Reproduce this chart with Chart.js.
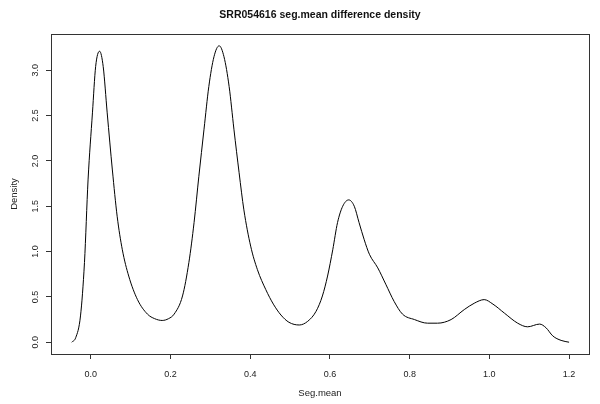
<!DOCTYPE html>
<html>
<head>
<meta charset="utf-8">
<script src="https://cdn.jsdelivr.net/npm/chart.js@4/dist/chart.umd.min.js"></script>
<style>
html,body{margin:0;padding:0;background:#fff;}
#c{display:block;}
</style>
</head>
<body>
<canvas id="c" width="600" height="404"></canvas>
<script>
const chartTitle = "SRR054616 seg.mean difference density";
const xLabel = "Seg.mean";
const yLabel = "Density";
const xTicks = [0.0, 0.2, 0.4, 0.6, 0.8, 1.0, 1.2];
const yTicks = [0.0, 0.5, 1.0, 1.5, 2.0, 2.5, 3.0];
const segMean = [
 -0.048,-0.038,-0.026,-0.016,-0.007,0.004,0.012,0.022,0.031,0.041,0.054,0.066,0.079,0.095,0.117,0.142,0.160,0.179,0.195,0.209,
 0.230,0.246,0.259,0.271,0.284,0.296,0.309,0.322,0.334,0.347,0.359,0.372,0.384,0.401,0.418,0.439,0.458,0.477,0.497,0.523,
 0.544,0.565,0.581,0.594,0.607,0.619,0.632,0.647,0.661,0.673,0.686,0.699,0.720,0.740,0.761,0.782,0.812,0.845,0.870,0.904,
 0.937,0.962,0.987,1.009,1.038,1.071,1.096,1.126,1.142,1.159,1.180,1.200
];
const density = [
 0.00,0.05,0.29,0.88,1.79,2.53,3.04,3.21,3.04,2.53,1.90,1.39,1.02,0.73,0.47,0.31,0.26,0.24,0.26,0.31,
 0.51,0.88,1.32,1.83,2.35,2.82,3.15,3.27,3.15,2.82,2.35,1.87,1.46,1.06,0.80,0.58,0.42,0.30,0.22,0.19,
 0.23,0.34,0.51,0.73,1.02,1.32,1.50,1.57,1.50,1.32,1.13,0.97,0.82,0.64,0.45,0.31,0.25,0.21,0.21,0.25,
 0.36,0.43,0.47,0.42,0.32,0.21,0.17,0.20,0.16,0.07,0.02,0.00
];

const FONT = "'Liberation Sans', Arial, Helvetica, sans-serif";

const boxPlugin = {
  id: 'rbox',
  afterDraw(chart) {
    const {ctx, chartArea: a} = chart;
    ctx.save();
    ctx.strokeStyle = '#333';
    ctx.lineWidth = 1;
    ctx.strokeRect(Math.round(a.left) + 0.5, Math.round(a.top) + 0.5,
                   Math.round(a.right - a.left), Math.round(a.bottom - a.top));
    ctx.fillStyle = '#111';
    ctx.font = "bold 10.5px " + FONT;
    ctx.textAlign = 'center';
    ctx.textBaseline = 'middle';
    ctx.fillText(chartTitle, (a.left + a.right) / 2, 15);
    ctx.restore();
  }
};

new Chart(document.getElementById('c'), {
  type: 'line',
  data: {
    datasets: [{
      data: segMean.map((x, i) => ({x: x, y: density[i]})),
      borderColor: '#000',
      borderWidth: 1,
      pointRadius: 0,
      fill: false,
      cubicInterpolationMode: 'monotone'
    }]
  },
  options: {
    responsive: false,
    animation: false,
    devicePixelRatio: 1,
    layout: {padding: {top: 34, right: 11, bottom: 0, left: 0}},
    plugins: {legend: {display: false}, tooltip: {enabled: false}, title: {display: false}},
    scales: {
      x: {
        type: 'linear',
        min: -0.1, max: 1.25,
        afterBuildTicks: s => { s.ticks = xTicks.map(v => ({value: v})); },
        afterFit: s => { s.height = 50; },
        ticks: {
          color: '#222',
          font: {family: FONT, size: 9},
          padding: 10,
          maxRotation: 0, minRotation: 0,
          callback: v => Number(v).toFixed(1)
        },
        grid: {display: true, drawOnChartArea: false, drawTicks: true, tickLength: 5, color: '#333'},
        border: {display: true, color: '#333'},
        title: {display: true, text: xLabel, color: '#222', font: {family: FONT, size: 9.5}, padding: {top: 0, bottom: 5}}
      },
      y: {
        type: 'linear',
        min: -0.13, max: 3.40,
        afterBuildTicks: s => { s.ticks = yTicks.map(v => ({value: v})); },
        afterFit: s => { s.width = 51; },
        ticks: {
          color: '#222',
          font: {family: FONT, size: 9},
          padding: 4,
          minRotation: 90, maxRotation: 90,
          crossAlign: 'center',
          callback: v => Number(v).toFixed(1)
        },
        grid: {display: true, drawOnChartArea: false, drawTicks: true, tickLength: 5, color: '#333'},
        border: {display: true, color: '#333'},
        title: {display: true, text: yLabel, color: '#222', font: {family: FONT, size: 9.5}, padding: {top: 9, bottom: 0}}
      }
    }
  },
  plugins: [boxPlugin]
});
</script>
</body>
</html>
